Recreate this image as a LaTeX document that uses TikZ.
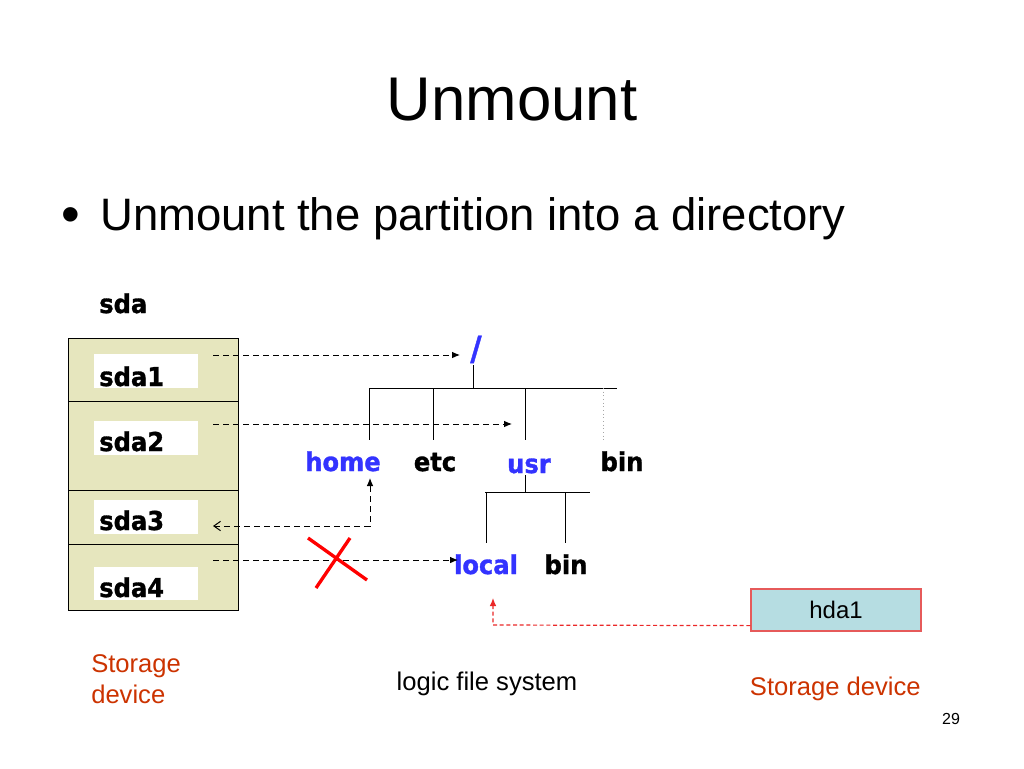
\documentclass[tikz,border=0pt]{standalone}
\usepackage{fontspec}
\setmainfont{Liberation Sans}
\newfontfamily\vfont[FakeStretch=0.93, BoldFeatures={FakeBold=1.2}]{DejaVu Sans}
\usetikzlibrary{arrows.meta,calc}
\definecolor{dirblue}{RGB}{51,51,255}
\definecolor{beige}{RGB}{230,230,190}
\definecolor{hdablue}{RGB}{182,221,226}
\definecolor{hdaborder}{RGB}{230,90,90}
\definecolor{storred}{RGB}{204,51,0}
\definecolor{mountred}{RGB}{235,40,40}
\begin{document}
\begin{tikzpicture}[x=0.75pt,y=-0.75pt,
  lbl/.style={font=\vfont\bfseries\fontsize{19.5}{21}\selectfont, inner sep=0pt, anchor=base},
  plain/.style={font=\fontsize{19.2}{22}\selectfont, inner sep=0pt, anchor=base},
  dirlbl/.style={lbl, text=dirblue},
  tree/.style={line width=0.75pt},
  conn/.style={dashed, dash pattern=on 4.5pt off 3pt, line width=0.75pt},
  part/.style={draw, fill=beige, line width=0.75pt},
  whitebox/.style={fill=white},
  tip/.style={-{Latex[length=6pt,width=5pt]}}]
\useasboundingbox[fill=white] (0,0) rectangle (1024,768);

% title and bullet
\node[inner sep=0pt, anchor=base, font=\fontsize{46.3}{50}\selectfont] (title) at (512,120) {Unmount};
\node[inner sep=0pt, anchor=base west, font=\fontsize{34.1}{38}\selectfont] (bullet) at (100,230) {Unmount the partition into a directory};
\node[inner sep=0pt, anchor=base, font=\fontsize{40}{42}\selectfont] (dot) at (71,232) {•};

% storage device sda
\node[lbl, anchor=base west] (sda) at (99,313) {sda};
\draw[part] (68,338) rectangle (238,401);
\draw[part] (68,401) rectangle (238,490);
\draw[part] (68,490) rectangle (238,544);
\draw[part] (68,544) rectangle (238,610);
\fill[whitebox] (94,354) rectangle (198,388);
\fill[whitebox] (94,421) rectangle (198,455);
\fill[whitebox] (94,500) rectangle (198,534);
\fill[whitebox] (94,567) rectangle (198,600);
\node[lbl, anchor=base west] (sda1) at (99,386) {sda1};
\node[lbl, anchor=base west] (sda2) at (99,451) {sda2};
\node[lbl, anchor=base west] (sda3) at (99,530) {sda3};
\node[lbl, anchor=base west] (sda4) at (99,597) {sda4};

% tree
\node[dirlbl, font=\vfont\bfseries\fontsize{25}{27}\selectfont] (root) at (476,360) {/};
\node[dirlbl] (home) at (343,471) {home};
\node[lbl] (etc) at (435,471) {etc};
\node[dirlbl] (usr) at (529,473) {usr};
\node[lbl] (bin) at (622,471) {bin};
\node[dirlbl] (local) at (486,574) {local};
\node[lbl] (bin2) at (566,574) {bin};

\coordinate (rj) at (473,388);
\draw[tree] (473,365) -- (rj);
\draw[tree] (369,388) -- (617,388);
\draw[tree] (369,388) -- (369,440);
\draw[tree] (433,388) -- (433,440);
\draw[tree] (525,388) -- (525,440);
\draw[line width=0.75pt, gray!70, dotted] (603,388) -- (603,440);
\draw[tree] (525,475) -- (525,492);
\draw[tree] (485,492) -- (590,492);
\draw[tree] (486,492) -- (486,543);
\draw[tree] (565,492) -- (565,543);

% connectors
\coordinate (s1) at (213,355);
\coordinate (e1) at (460,355);
\coordinate (s2) at (213,424);
\coordinate (e2) at (512,424);
\coordinate (s3) at (213,526);
\coordinate (e3) at (370,478);
\coordinate (s4) at (213,560);
\coordinate (e4) at (458,560);
\draw[conn, tip] (s1) -- (e1);
\draw[conn, tip] (s2) -- (e2);
\draw[conn, {Straight Barb[length=5pt,width=7pt]}-{Latex[length=6pt,width=5pt]}] (s3) -- (370,526) -- (e3);
\draw[conn, tip] (s4) -- (e4);

% red X
\draw[red, line width=2.5pt] (308,538) -- (367,580);
\draw[red, line width=2.5pt] (316,588) -- (350,538);

% hda1
\node[draw=hdaborder, fill=hdablue, line width=0.9pt, minimum width=127.5pt, minimum height=31.5pt, inner sep=0pt, font=\fontsize{18}{20}\selectfont] (hda1) at (836,610) {hda1};
\coordinate (h1) at ($(hda1.south west)+(0,-6)$);
\coordinate (h2) at (493,625);
\coordinate (h3) at (493,598);
\draw[mountred, dash pattern=on 3pt off 2pt, line width=0.9pt, tip] (h1) -- (h2) -- (h3);

% captions
\node[plain, anchor=base west, text=storred] (sd1) at (91,672) {Storage};
\node[plain, anchor=base west, text=storred] (sd2) at (91,703) {device};
\node[plain] (lfs) at (487,690) {logic file system};
\node[plain, anchor=base east, text=storred] (sd3) at (921,695) {Storage device};
\node[inner sep=0pt, anchor=base, font=\fontsize{12}{14}\selectfont] (pg) at (951,724) {29};
\end{tikzpicture}
\end{document}
